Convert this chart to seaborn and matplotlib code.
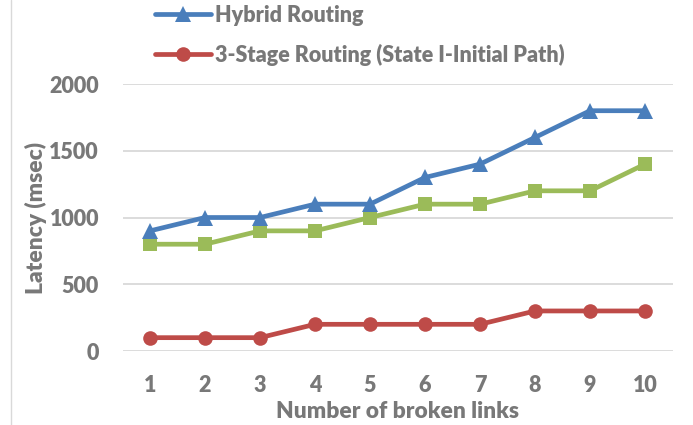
import matplotlib
matplotlib.use("Agg")
import matplotlib.pyplot as plt
import seaborn as sns
import pandas as pd
from matplotlib.lines import Line2D

links = [1, 2, 3, 4, 5, 6, 7, 8, 9, 10]
hybrid = [900, 1000, 1000, 1100, 1100, 1300, 1400, 1600, 1800, 1800]
green_series = [800, 800, 900, 900, 1000, 1100, 1100, 1200, 1200, 1400]
stage3_initial = [100, 100, 100, 200, 200, 200, 200, 300, 300, 300]
yticks = [0, 500, 1000, 1500, 2000]

sns.set_theme(style="white")
plt.rcParams['font.family'] = ['Lato', 'DejaVu Sans']
gray = "#787878"

fig = plt.figure(figsize=(6.93, 4.25), dpi=100)
ax = fig.add_axes([0.1768, 0.1741, 0.7937, 0.6282])

blue = "#4A7EBB"
red = "#BE4B48"
green = "#9BBB59"

sns.lineplot(x=links, y=hybrid, ax=ax, color=blue, lw=3.4, marker="^",
             markersize=11, markeredgewidth=0, zorder=4)
sns.lineplot(x=links, y=green_series, ax=ax, color=green, lw=3.4, marker="s",
             markersize=10, markeredgewidth=0, zorder=3)
sns.lineplot(x=links, y=stage3_initial, ax=ax, color=red, lw=3.4, marker="o",
             markersize=10.5, markeredgewidth=0, zorder=3)

ax.set_xlim(0.5, 10.5)
ax.set_ylim(0, 2000)
ax.set_yticks(yticks)
ax.set_xticks(links)
ax.set_xticklabels([str(v) for v in links])
ax.yaxis.grid(True, color="#d9d9d9", lw=1.3)
ax.set_axisbelow(True)
for s in ax.spines.values():
    s.set_visible(False)
ax.tick_params(axis="both", length=0, labelsize=15.5, labelcolor=gray)
for lab in ax.get_xticklabels() + ax.get_yticklabels():
    lab.set_fontweight("heavy")
ax.tick_params(axis="y", pad=17)
ax.tick_params(axis="x", pad=17)
ax.set_xlabel("Number of broken links", fontsize=16.4, fontweight="heavy", color=gray, labelpad=4)
ax.set_ylabel("Latency (msec)", fontsize=16.4, fontweight="heavy", color=gray, labelpad=2)

handles = [
    Line2D([], [], color=blue, lw=3.4, marker="^", markersize=11, markeredgewidth=0),
    Line2D([], [], color=red, lw=3.4, marker="o", markersize=10.5, markeredgewidth=0),
]
leg = fig.legend(handles, ["Hybrid Routing", "3-Stage Routing (State I-Initial Path)"],
                 loc="upper left", bbox_to_anchor=(0.196, 1.035), frameon=False,
                 handlelength=2.6, handletextpad=0.2, labelspacing=0.85,
                 prop={"size": 15.5, "weight": "heavy"})
for t in leg.get_texts():
    t.set_color(gray)

fig.add_artist(Line2D([11/693, 11/693], [0, 1], color="#d9d9d9", lw=1, transform=fig.transFigure))

fig.savefig("out.png", dpi=100)
